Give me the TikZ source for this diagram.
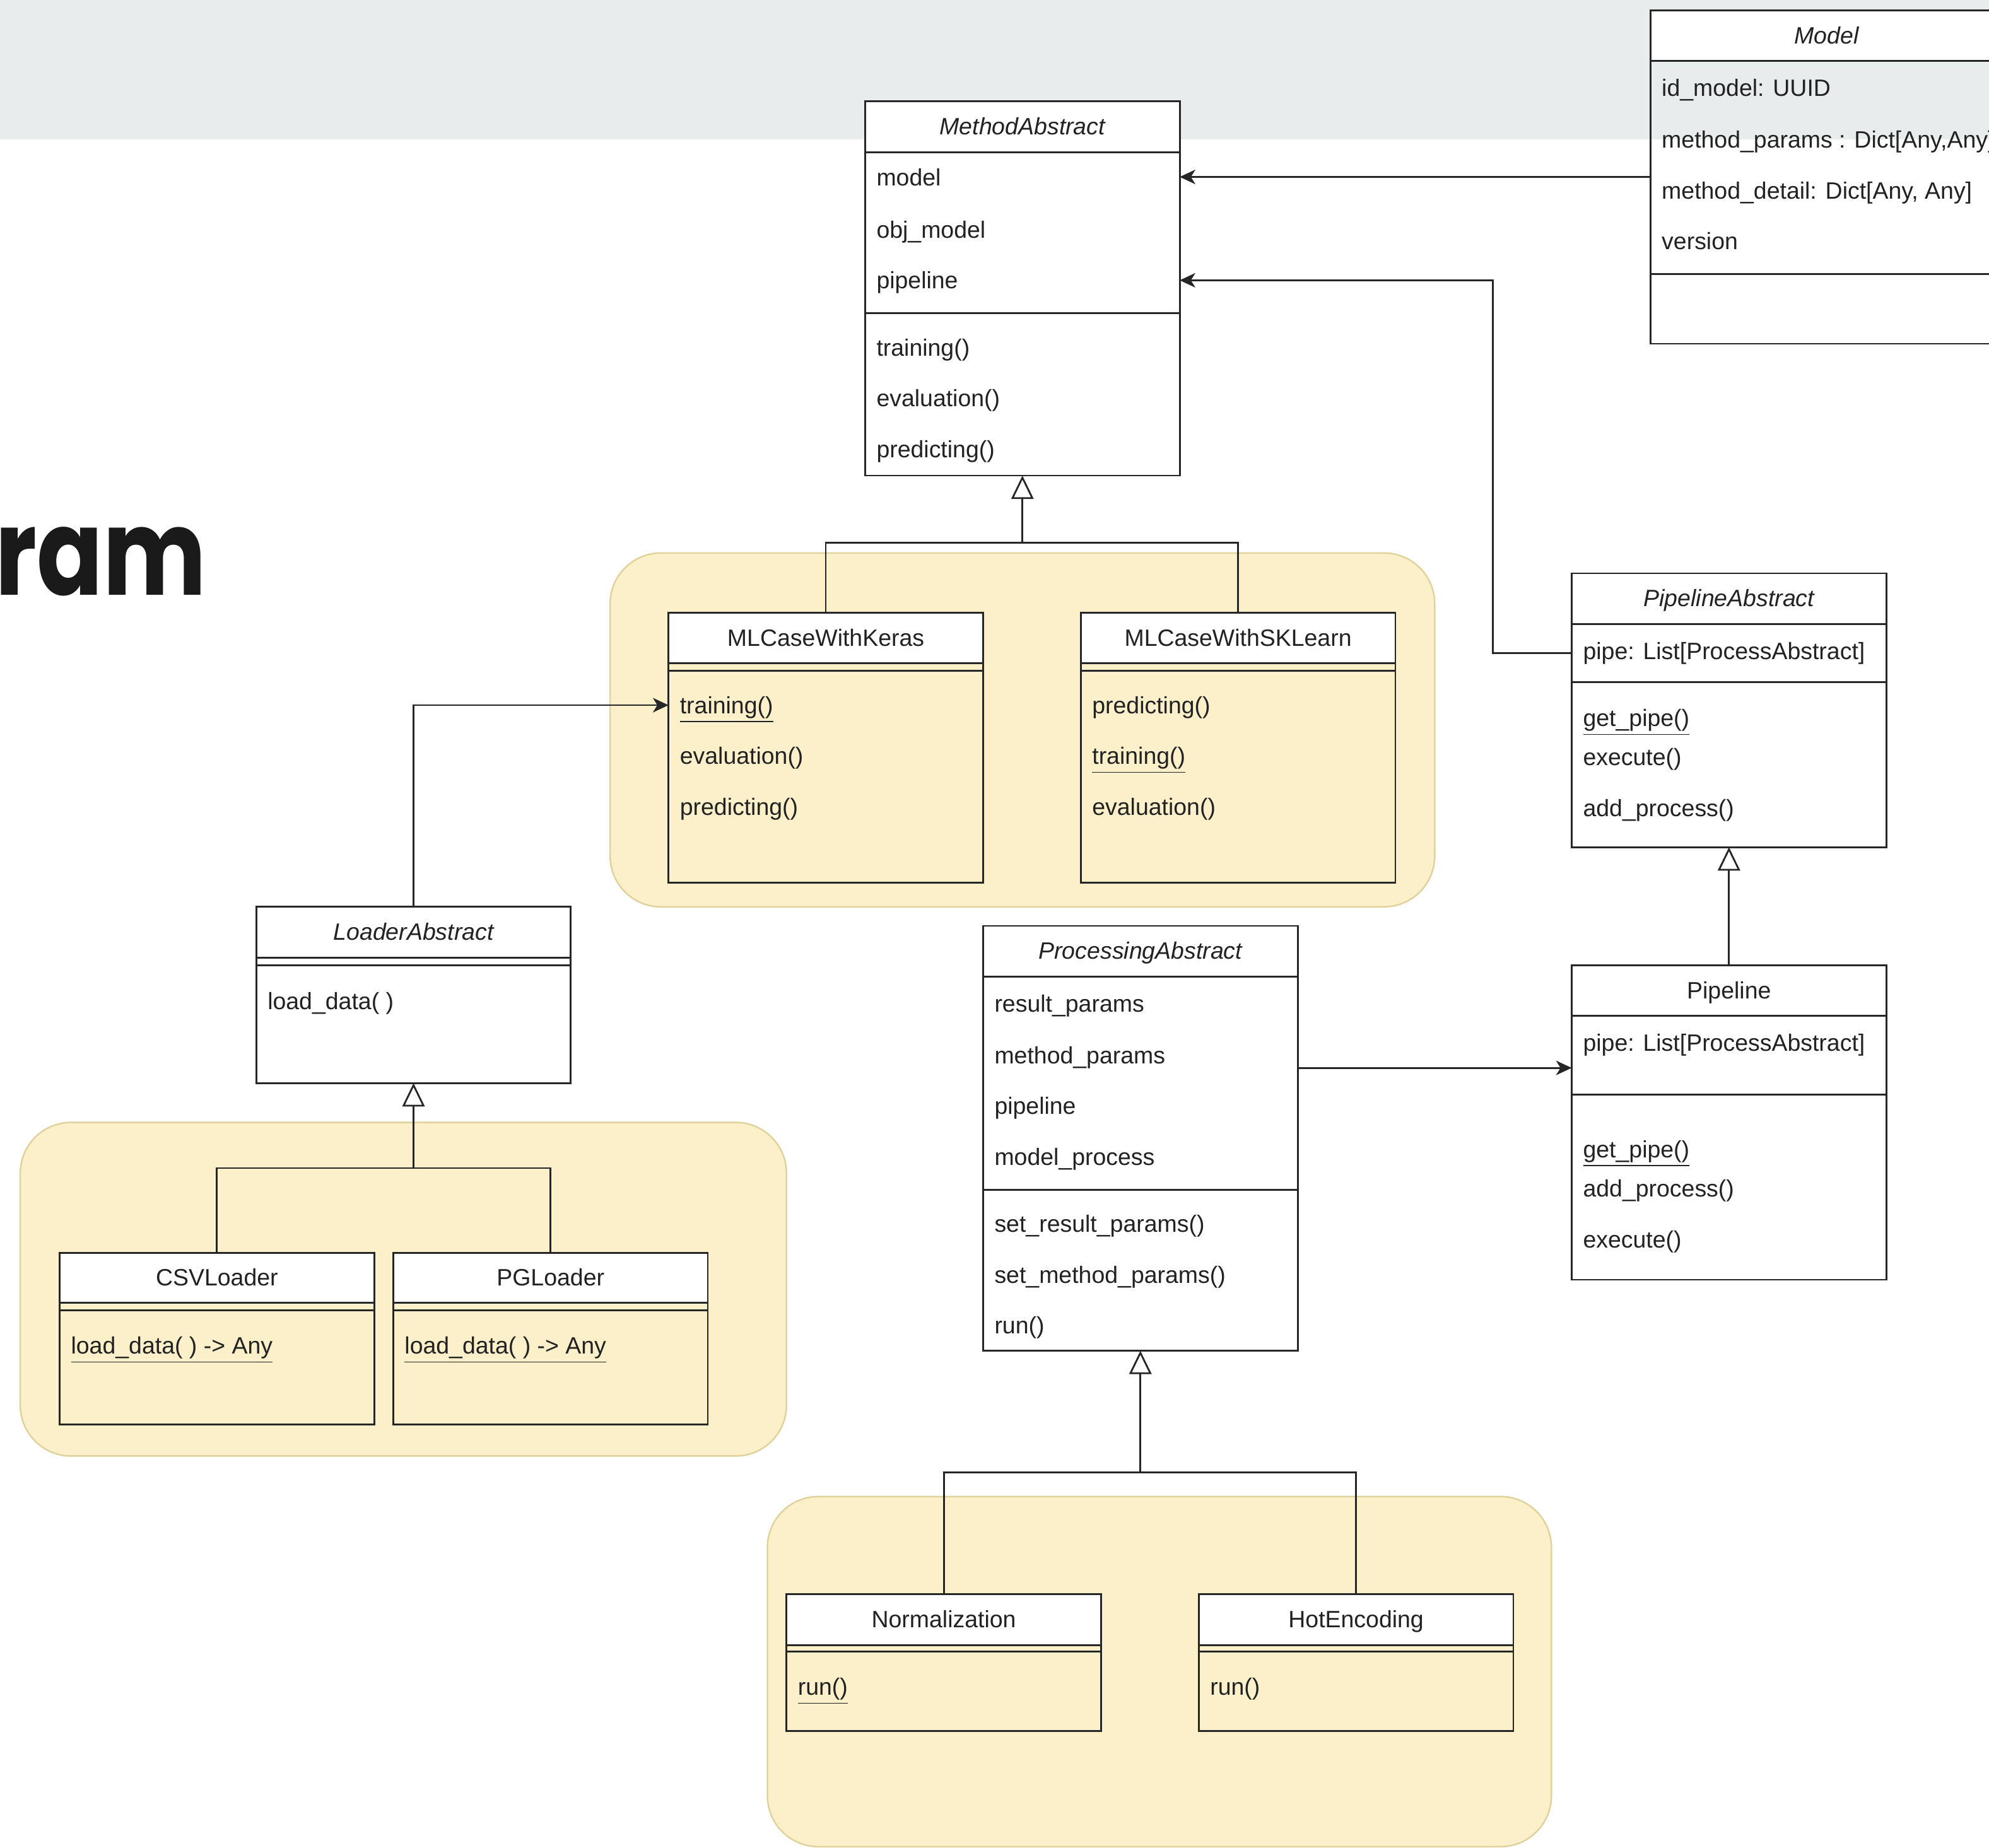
\documentclass[tikz,border=0pt]{standalone}
\usepackage{fontspec}
\setmainfont{Liberation Sans}
\newfontfamily\titlefont{Poppins}
\usetikzlibrary{arrows.meta,calc}
\definecolor{bandc}{HTML}{E8ECEC}
\definecolor{grpfill}{HTML}{FCF0CA}
\definecolor{grpline}{HTML}{E0D29C}
\definecolor{linec}{HTML}{262626}
\definecolor{txtc}{HTML}{222222}
\definecolor{titlec}{HTML}{1A1A1A}
\tikzset{
  frame/.style={draw=linec, line width=0.8pt, inner sep=0pt, outer sep=0pt, rectangle},
  hdr/.style={draw=linec, line width=0.8pt, fill=white, inner sep=0pt, outer sep=0pt, rectangle,
              text=txtc, text height=0.92em, text depth=0.2em},
  row/.style={anchor=west, inner sep=0pt, outer sep=0pt, text=txtc, text height=0.72em, text depth=0.2em, yshift=-1.2pt},
  divl/.style={draw=linec, line width=0.8pt},
  group/.style={fill=grpfill, draw=grpline, line width=0.7pt, rounded corners=0.8cm},
  conn/.style={draw=linec, line width=0.8pt},
  assoc/.style={conn, -{Stealth[length=7pt, width=6.5pt, inset=2pt]}},
  inh/.style={conn, -{Triangle[open, length=10.5pt, width=10pt]}},
}
\newcommand\clsbox[8]{%
  \node[frame, fill=#8, minimum width=#4*0.02cm, minimum height=#5*0.02cm, anchor=north west] (#1) at (#2,#3) {};
  \node[hdr, minimum width=#4*0.02cm, minimum height=#6*0.02cm, anchor=north west] (#1-h) at (#2,#3) {#7};
}
\begin{document}
\begin{tikzpicture}[x=0.02cm, y=-0.02cm, font=\fontsize{10.6}{12.5}\selectfont]
\useasboundingbox (0,0) rectangle (1568,1457);
% background band
\fill[bandc] (0,0) rectangle (1568,110);
% title fragment
\node[anchor=base east, inner sep=0pt, text=titlec, font=\titlefont\bfseries\fontsize{54}{56}\selectfont] (title) at (163,469) {\scalebox{0.81}[1]{ram}};

% groups
\draw[group] (481,436) rectangle (1131,715);
\draw[group] (16,885) rectangle (620,1148);
\draw[group] (605,1180) rectangle (1223,1456);

% Model
\clsbox{model}{1301}{8}{278}{263}{40}{\itshape Model}{none}
\draw[divl] (1301,216) -- (1579,216);
\node[row] (model-r1) at (1310,69) {id\_model: UUID};
\node[row] (model-r2) at (1310,110) {method\_params : Dict[Any,Any]};
\node[row] (model-r3) at (1310,150) {method\_detail: Dict[Any, Any]};
\node[row] (model-r4) at (1310,190) {version};

% MethodAbstract
\clsbox{ma}{682}{80}{248}{295}{40}{\itshape MethodAbstract}{white}
\draw[divl] (682,247) -- (930,247);
\node[row] (ma-r1) at (691,140) {model};
\node[row] (ma-r2) at (691,181) {obj\_model};
\node[row] (ma-r3) at (691,221) {pipeline};
\node[row] (ma-r4) at (691,274) {training()};
\node[row] (ma-r5) at (691,314) {evaluation()};
\node[row] (ma-r6) at (691,354) {predicting()};

% PipelineAbstract
\clsbox{pa}{1239}{452}{248}{216}{40}{\itshape PipelineAbstract}{white}
\draw[divl] (1239,538) -- (1487,538);
\node[row] (pa-r1) at (1248,513) {pipe: List[ProcessAbstract]};
\node[row] (pa-r2) at (1248,566) {\underline{get\_pipe()}};
\node[row] (pa-r3) at (1248,597) {execute()};
\node[row] (pa-r4) at (1248,637) {add\_process()};

% Pipeline
\clsbox{pl}{1239}{761}{248}{248}{40}{Pipeline}{white}
\draw[divl] (1239,863) -- (1487,863);
\node[row] (pl-r1) at (1248,822) {pipe: List[ProcessAbstract]};
\node[row] (pl-r2) at (1248,906) {\underline{get\_pipe()}};
\node[row] (pl-r3) at (1248,937) {add\_process()};
\node[row] (pl-r4) at (1248,977) {execute()};

% ProcessingAbstract
\clsbox{pr}{775}{730}{248}{335}{40}{\itshape ProcessingAbstract}{white}
\draw[divl] (775,938) -- (1023,938);
\node[row] (pr-r1) at (784,791) {result\_params};
\node[row] (pr-r2) at (784,832) {method\_params};
\node[row] (pr-r3) at (784,872) {pipeline};
\node[row] (pr-r4) at (784,912) {model\_process};
\node[row] (pr-r5) at (784,965) {set\_result\_params()};
\node[row] (pr-r6) at (784,1005) {set\_method\_params()};
\node[row] (pr-r7) at (784,1045) {run()};

% MLCaseWithKeras
\clsbox{mlk}{527}{483}{248}{213}{40}{MLCaseWithKeras}{none}
\draw[divl] (527,529) -- (775,529);
\node[row] (mlk-r1) at (536,556) {\underline{training()}};
\node[row] (mlk-r2) at (536,596) {evaluation()};
\node[row] (mlk-r3) at (536,636) {predicting()};

% MLCaseWithSKLearn
\clsbox{mls}{852}{483}{248}{213}{40}{MLCaseWithSKLearn}{none}
\draw[divl] (852,529) -- (1100,529);
\node[row] (mls-r1) at (861,556) {predicting()};
\node[row] (mls-r2) at (861,596) {\underline{training()}};
\node[row] (mls-r3) at (861,636) {evaluation()};

% LoaderAbstract
\clsbox{la}{202}{715}{248}{139}{40}{\itshape LoaderAbstract}{white}
\draw[divl] (202,761) -- (450,761);
\node[row] (la-r1) at (211,789) {load\_data( )};

% CSVLoader
\clsbox{csv}{47}{988}{248}{135}{39}{CSVLoader}{none}
\draw[divl] (47,1033) -- (295,1033);
\node[row] (csv-r1) at (56,1061) {\underline{load\_data( ) -> Any}};

% PGLoader
\clsbox{pg}{310}{988}{248}{135}{39}{PGLoader}{none}
\draw[divl] (310,1033) -- (558,1033);
\node[row] (pg-r1) at (319,1061) {\underline{load\_data( ) -> Any}};

% Normalization
\clsbox{nrm}{620}{1257}{248}{108}{40}{Normalization}{none}
\draw[divl] (620,1302) -- (868,1302);
\node[row] (nrm-r1) at (629,1330) {\underline{run()}};

% HotEncoding
\clsbox{hot}{945}{1257}{248}{108}{40}{HotEncoding}{none}
\draw[divl] (945,1302) -- (1193,1302);
\node[row] (hot-r1) at (954,1330) {run()};

% associations
\draw[assoc] (model.west) -- (model.west -| ma.east);
\coordinate (b1) at (1177,221);
\draw[assoc] (pa-r1.west -| pa.west) -| (b1) -- (b1 -| ma.east);
\draw[assoc] ($(pr.north east)+(0,112)$) -- ($(pl.north west)+(0,81)$);
\draw[assoc] (la.north) |- ($(mlk.north west)+(0,73)$);

% generalisations
\coordinate (j1) at (806,428);
\draw[conn] (mlk.north) |- (j1);
\draw[conn] (mls.north) |- (j1);
\draw[inh] (j1) -- (ma.south);

\coordinate (j2) at (326,921);
\draw[conn] (csv.north) |- (j2);
\draw[conn] (pg.north) |- (j2);
\draw[inh] (j2) -- (la.south);

\coordinate (j3) at (899,1161);
\draw[conn] (nrm.north) |- (j3);
\draw[conn] (hot.north) |- (j3);
\draw[inh] (j3) -- (pr.south);

\draw[inh] (pl.north) -- (pa.south);
\end{tikzpicture}
\end{document}
